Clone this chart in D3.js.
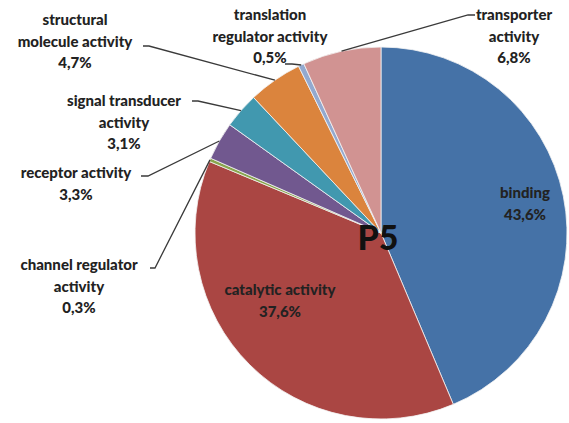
<!DOCTYPE html>
<html>
<head>
<meta charset="utf-8">
<script src="https://cdnjs.cloudflare.com/ajax/libs/d3/7.8.5/d3.min.js"></script>
<style>
  body { margin: 0; background: #fff; }
  svg { display: block; }
  text { font-family: Lato, "Open Sans", sans-serif; font-weight: bold; fill: #222; }
</style>
</head>
<body>
<div id="chart"></div>
<script>
// data, clockwise from 12 o'clock
var categories = ["binding", "catalytic activity", "channel regulator activity", "receptor activity",
                  "signal transducer activity", "structural molecule activity",
                  "translation regulator activity", "transporter activity"];
var values = [43.6, 37.6, 0.3, 3.3, 3.1, 4.7, 0.5, 6.8];
var valueLabels = ["43,6%", "37,6%", "0,3%", "3,3%", "3,1%", "4,7%", "0,5%", "6,8%"];
var colors = ["#4572A7", "#AA4643", "#89A54E", "#71588F", "#4198AF", "#DB843D", "#93A9CF", "#D19392"];
var centerTitle = "P5";

// label layout: text lines, centre x, first line y, leader start (or null for inside labels)
var labelLines = [
  ["binding"], ["catalytic activity"], ["channel regulator", "activity"], ["receptor activity"],
  ["signal transducer", "activity"], ["structural", "molecule activity"],
  ["translation", "regulator activity"], ["transporter", "activity"]
];
var labelPos = [
  {x: 525, y: 198, lead: null},
  {x: 280, y: 295, lead: null},
  {x: 79, y: 270, lead: [150, 268, 155, 268]},
  {x: 76, y: 178, lead: [141, 176, 148, 176]},
  {x: 124, y: 106, lead: [192, 101, 198, 101]},
  {x: 75, y: 25, lead: [143, 46, 149, 46]},
  {x: 270, y: 20, lead: [285, 64, 292, 64]},
  {x: 514, y: 20, lead: [475, 15, 468, 15]}
];

var width = 569, height = 423;
var cx = 381, cy = 233, radius = 186;
var lineH = 21.5;

var svg = d3.select("#chart").append("svg")
  .attr("width", width)
  .attr("height", height);

var pie = d3.pie().sort(null).value(function(d) { return d; });
var arcs = pie(values);

var arc = d3.arc().innerRadius(0).outerRadius(radius);

var g = svg.append("g")
  .attr("transform", "translate(" + cx + "," + cy + ")");

g.selectAll("path.slice")
  .data(arcs)
  .enter().append("path")
  .attr("class", "slice")
  .attr("d", arc)
  .attr("fill", function(d, i) { return colors[i]; })
  .attr("stroke", "#f4f4f4")
  .attr("stroke-width", 0.8);

// leader lines: from label to the middle of the slice edge
arcs.forEach(function(d, i) {
  var p = labelPos[i];
  if (!p.lead) return;
  var mid = (d.startAngle + d.endAngle) / 2;
  var ex = cx + radius * Math.sin(mid);
  var ey = cy - radius * Math.cos(mid);
  var pts = [[p.lead[0], p.lead[1]], [p.lead[2], p.lead[3]], [ex, ey]];
  svg.append("path")
    .attr("d", d3.line()(pts))
    .attr("fill", "none")
    .attr("stroke", "#3a3a3a")
    .attr("stroke-width", 1.3);
});

// labels
arcs.forEach(function(d, i) {
  var p = labelPos[i];
  var lines = labelLines[i].concat([valueLabels[i]]);
  var t = svg.append("text")
    .attr("text-anchor", "middle")
    .style("font-size", "15px")
    .style("font-weight", 900);
  lines.forEach(function(s, k) {
    t.append("tspan")
      .attr("x", p.x)
      .attr("y", p.y + k * lineH)
      .text(s);
  });
});

svg.append("text")
  .attr("x", cx - 3)
  .attr("y", cy + 17)
  .attr("text-anchor", "middle")
  .style("font-size", "34px")
  .style("font-weight", 900)
  .style("fill", "#111")
  .text(centerTitle);
</script>
</body>
</html>
